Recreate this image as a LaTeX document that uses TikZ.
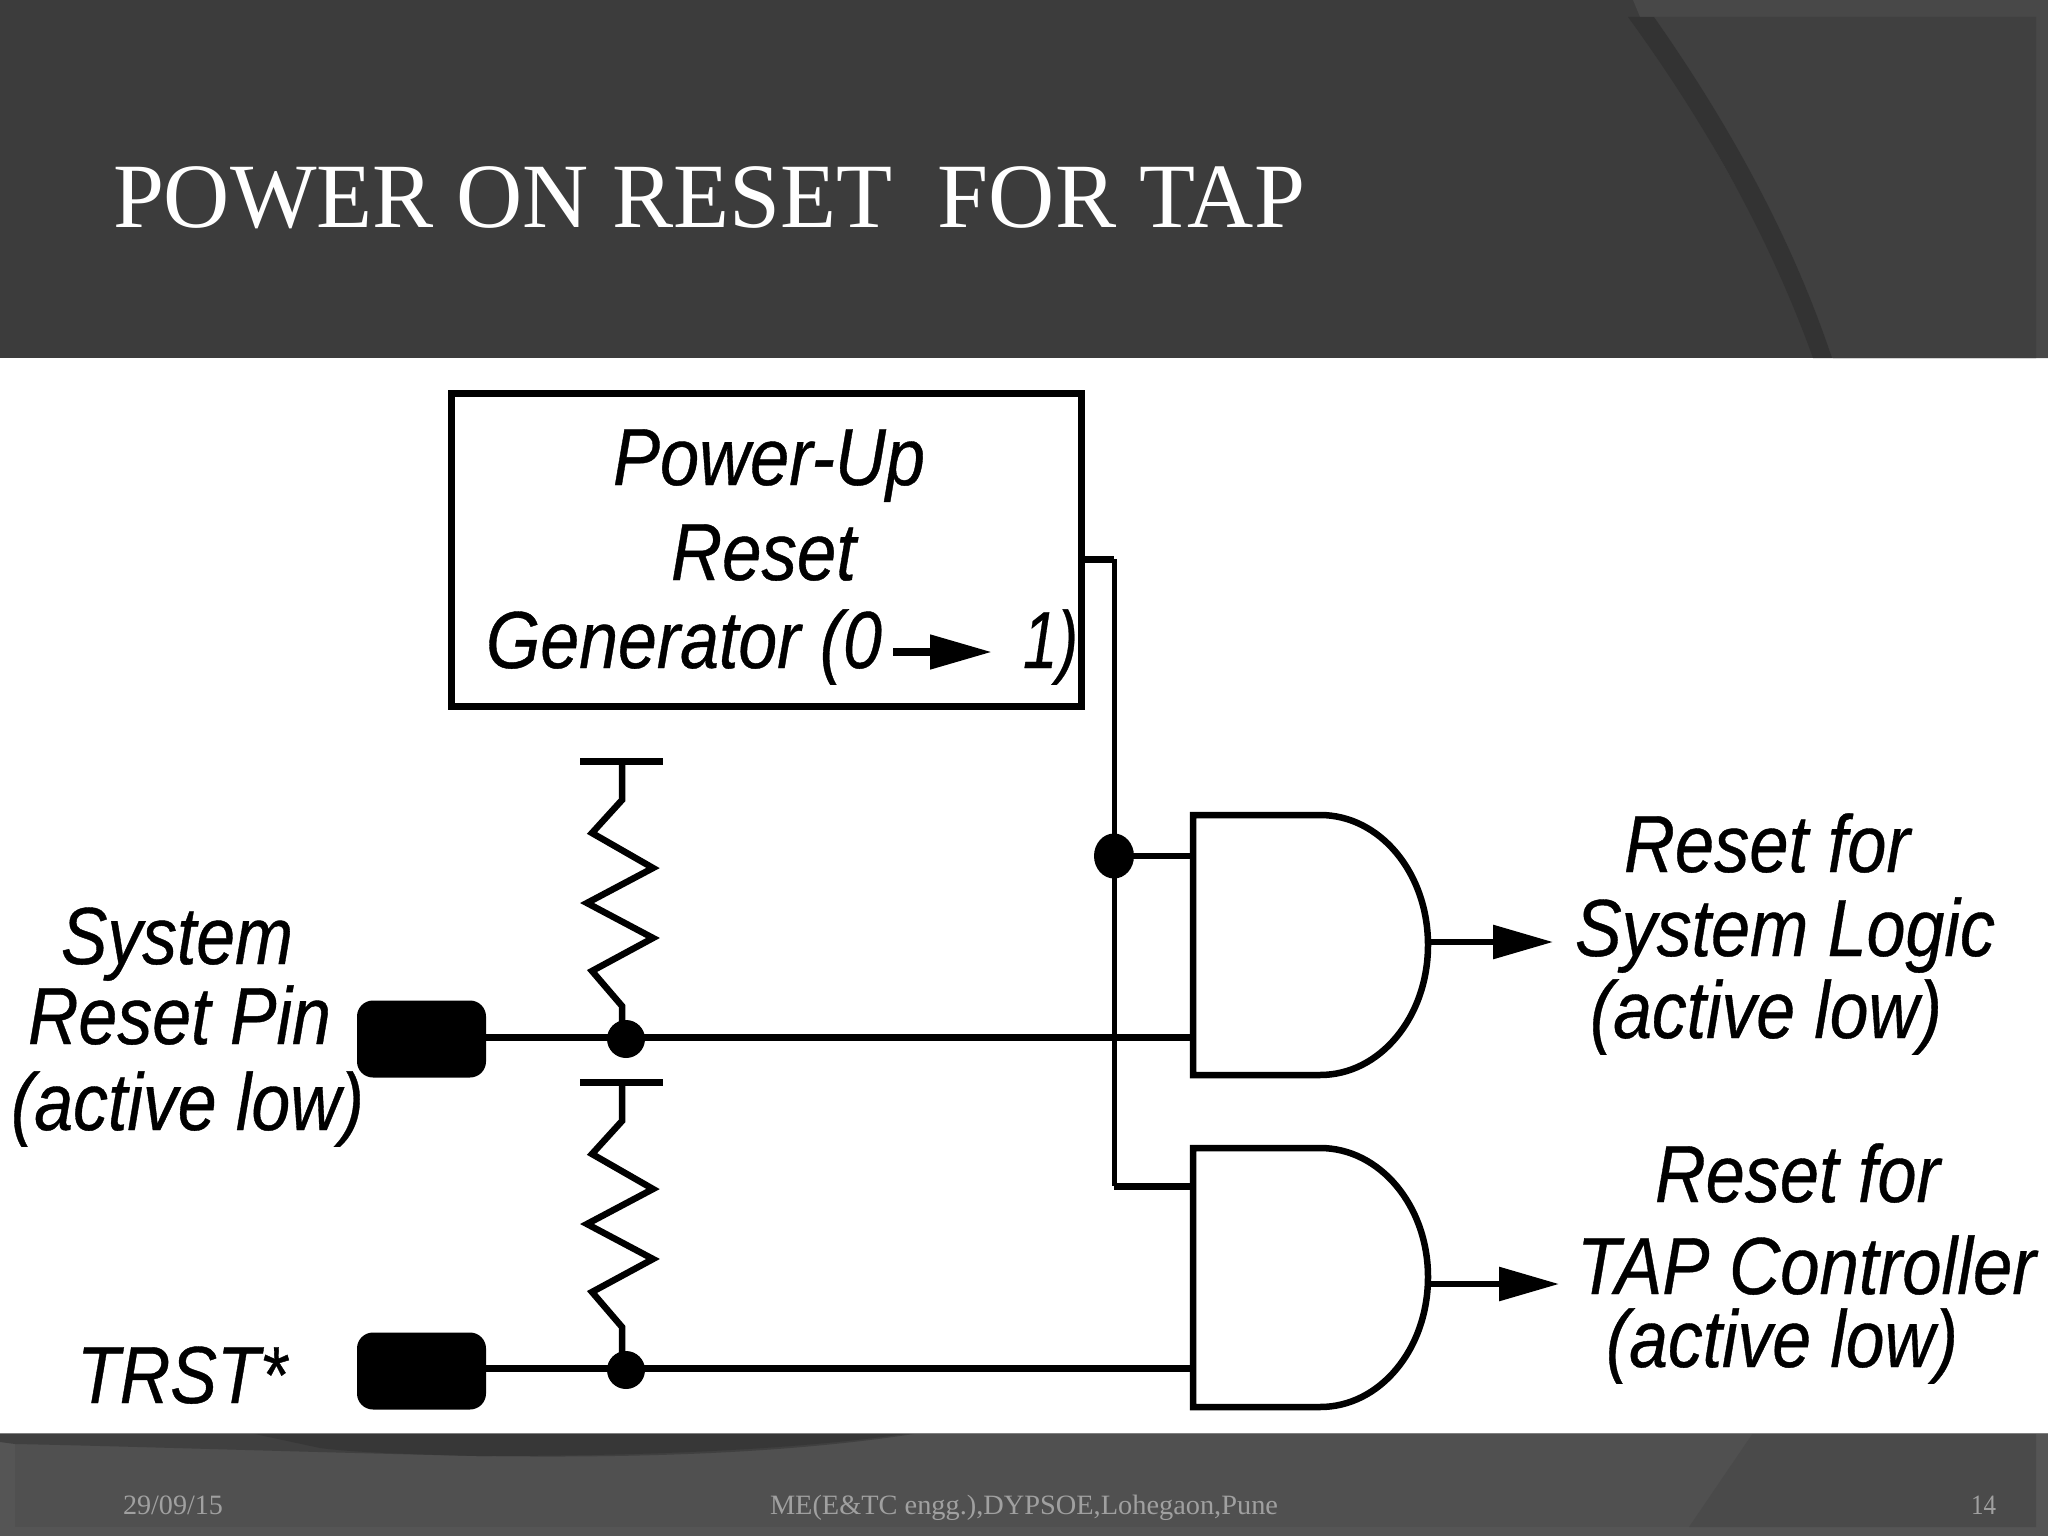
\documentclass[tikz,border=0pt]{standalone}
\usepackage{graphicx}
\usepackage{fontspec}
\setmainfont{Liberation Serif}
\newfontfamily\diafont[FakeBold=0.5]{Liberation Sans}
\usetikzlibrary{arrows.meta,shapes.geometric}
\definecolor{hdr}{HTML}{3C3C3C}
\definecolor{hdrr}{HTML}{404040}
\definecolor{hdrs}{HTML}{484848}
\definecolor{hband}{HTML}{333333}
\definecolor{ftr}{HTML}{505050}
\definecolor{ftrr}{HTML}{4A4A4A}
\definecolor{ftrs}{HTML}{555555}
\definecolor{swa}{HTML}{404040}
\definecolor{swb}{HTML}{373737}
\definecolor{ftxt}{HTML}{A0A0A0}
\tikzset{
  lbl/.style={anchor=base west,inner sep=0pt,outer sep=0pt,text=black,font=\diafont\itshape\fontsize{81}{90}\selectfont},
  ftext/.style={anchor=base west,inner sep=0pt,outer sep=0pt,text=ftxt,font=\rmfamily\fontsize{28}{32}\selectfont},
  ttext/.style={anchor=base west,inner sep=0pt,outer sep=0pt,text=white,font=\rmfamily\fontsize{92}{100}\selectfont},
  hw/.style={line width=7pt},
  vw/.style={line width=5pt},
  gatebody/.style={line width=6.5pt,line join=miter,fill=white},
  res/.style={line width=6.5pt,line join=miter},
  dot/.style={circle,fill=black,draw=none,inner sep=0pt,minimum size=38pt},
  pin/.style={rectangle,rounded corners=16pt,fill=black,draw=none,minimum width=129pt,minimum height=77pt,inner sep=0pt},
  outarrow/.style={line width=6pt,-{Triangle[length=60pt,width=33pt]}},
}
\newcommand\fitw[2]{\resizebox{#1pt}{\height}{#2}}
\begin{document}
\begin{tikzpicture}[x=1pt,y=-1pt]
\useasboundingbox (0,0) rectangle (2048,1536);
% slide background
\fill[white] (0,0) rectangle (2048,1536);
\fill[hdr] (0,0) rectangle (2048,358);
\fill[hdrs] (1633,0) -- (2048,0) -- (2048,358) -- (1833,358) -- (1640,17) -- cycle;
\fill[hdrr] (1654,17) -- (2036,17) -- (2036,358) -- (1832,358) .. controls (1794,244) and (1734,131) .. cycle;
\fill[hband] (1628,17) -- (1654,17) .. controls (1734,131) and (1794,244) .. (1832,358) -- (1813,358) .. controls (1772,244) and (1711,131) .. cycle;
\fill[ftrs] (0,1433) rectangle (2048,1536);
\fill[ftr] (15,1433) rectangle (2036,1527);
\fill[ftrr] (1753,1433) -- (2036,1433) -- (2036,1527) -- (1689,1527) -- cycle;
\fill[swa] (0,1433) -- (920,1433) .. controls (780,1455) and (620,1458) .. (477,1456) .. controls (300,1452) and (120,1446) .. (15,1444) -- (0,1442) -- cycle;
\fill[swb] (250,1433) -- (912,1433) .. controls (780,1452) and (620,1456) .. (477,1456) .. controls (400,1454) and (350,1452) .. (320,1448) -- cycle;
\draw[line width=1pt,gray] (0,1433) -- (2048,1433);
% title and footer
\node[ttext] (title) at (113,227) {\fitw{1192}{POWER ON RESET\ \ FOR TAP}};
\node[ftext] (fdate) at (123,1514) {\fitw{100}{29/09/15}};
\node[ftext] (fmid) at (770,1514) {\fitw{508}{ME(E\&TC engg.),DYPSOE,Lohegaon,Pune}};
\node[ftext] (fnum) at (1971,1514) {\fitw{25}{14}};
% coordinates
\coordinate (boxout) at (1085,559);
\coordinate (wc1) at (1114,559);
\coordinate (wc2) at (1114,1186);
\coordinate (g1a) at (1193,856);
\coordinate (g1b) at (1193,1037);
\coordinate (g2a) at (1193,1186);
\coordinate (g2b) at (1193,1368);
\coordinate (g1o) at (1428,942);
\coordinate (g2o) at (1428,1284);
\coordinate (o1) at (1553,942);
\coordinate (o2) at (1559,1284);
\coordinate (r1top) at (622,761);
\coordinate (r2top) at (622,1082);
\coordinate (r1bot) at (622,1037);
\coordinate (r2bot) at (622,1368);
\coordinate (b1l) at (580,761);
\coordinate (b1r) at (663,761);
\coordinate (b2l) at (580,1082);
\coordinate (b2r) at (663,1082);
\coordinate (ga1) at (893,652);
\coordinate (ga2) at (992,652);
% main block
\node[draw=black,line width=7pt,fill=white,minimum width=630pt,minimum height=313pt,inner sep=0pt,outer sep=0pt] (gen) at (766.5,550) {};
% pins and junctions
\node[pin] (pin1) at (421.5,1039) {};
\node[pin] (pin2) at (421.5,1371) {};
\node[dot] (j1) at (626,1039) {};
\node[dot] (j2) at (626,1370) {};
\node[ellipse,fill=black,draw=none,inner sep=0pt,minimum width=40pt,minimum height=45pt] (j3) at (1114,856) {};
% wires
\draw[hw] (boxout) -- (wc1);
\draw[vw,line join=miter] (wc1) -- (j3.center) -- (wc2);
\draw[hw] (wc2) -- (g2a);
\draw[hw,line width=6pt] (j3) -- (g1a);
\draw[hw] (pin1.center |- g1b) -- (g1b);
\draw[hw] (pin2.center |- g2b) -- (g2b);
\draw[outarrow] (g1o) -- (o1);
\draw[outarrow] (g2o) -- (o2);
% gates
\draw[gatebody] (1193,815) -- (1320,815) .. controls (1380,815) and (1428,873) .. (1428,945) .. controls (1428,1017) and (1380,1075) .. (1320,1075) -- (1193,1075) -- cycle;
\draw[gatebody] (1193,1148) -- (1320,1148) .. controls (1380,1148) and (1428,1206) .. (1428,1277) .. controls (1428,1349) and (1380,1407) .. (1320,1407) -- (1193,1407) -- cycle;
% resistors
\draw[hw] (b1l) -- (b1r);
\draw[res] (r1top) -- (622,800) -- (592,833) -- (653,868) -- (587,903) -- (653,938) -- (592,971) -- (622,1006) -- (r1bot);
\draw[hw] (b2l) -- (b2r);
\draw[res] (r2top) -- (622,1121) -- (592,1154) -- (653,1189) -- (587,1224) -- (653,1259) -- (592,1292) -- (622,1327) -- (r2bot);
% labels
\node[lbl] (t1) at (613,485) {\fitw{312}{Power-Up}};
\node[lbl] (t2) at (671,580) {\fitw{185}{Reset}};
\node[lbl] (t3) at (486,668) {\fitw{396}{Generator (0}};
\node[lbl] (t4) at (1023,668) {\fitw{55}{1)}};
\draw[line width=8pt,-{Triangle[length=62pt,width=33pt]}] (ga1) -- (ga2);
\node[lbl] (s1) at (61,964) {\fitw{232}{System}};
\node[lbl] (s2) at (28,1044) {\fitw{303}{Reset Pin}};
\node[lbl] (s3) at (11,1130) {\fitw{353}{(active low)}};
\node[lbl] (s4) at (77,1403) {\fitw{210}{TRST*}};
\node[lbl] (r1) at (1624,872) {\fitw{286}{Reset for}};
\node[lbl] (r2) at (1575,956) {\fitw{420}{System Logic}};
\node[lbl] (r3) at (1590,1038) {\fitw{352}{(active low)}};
\node[lbl] (r4) at (1655,1202) {\fitw{285}{Reset for}};
\node[lbl] (r5) at (1577,1294) {\fitw{459}{TAP Controller}};
\node[lbl] (r6) at (1606,1367) {\fitw{352}{(active low)}};
\end{tikzpicture}
\end{document}
